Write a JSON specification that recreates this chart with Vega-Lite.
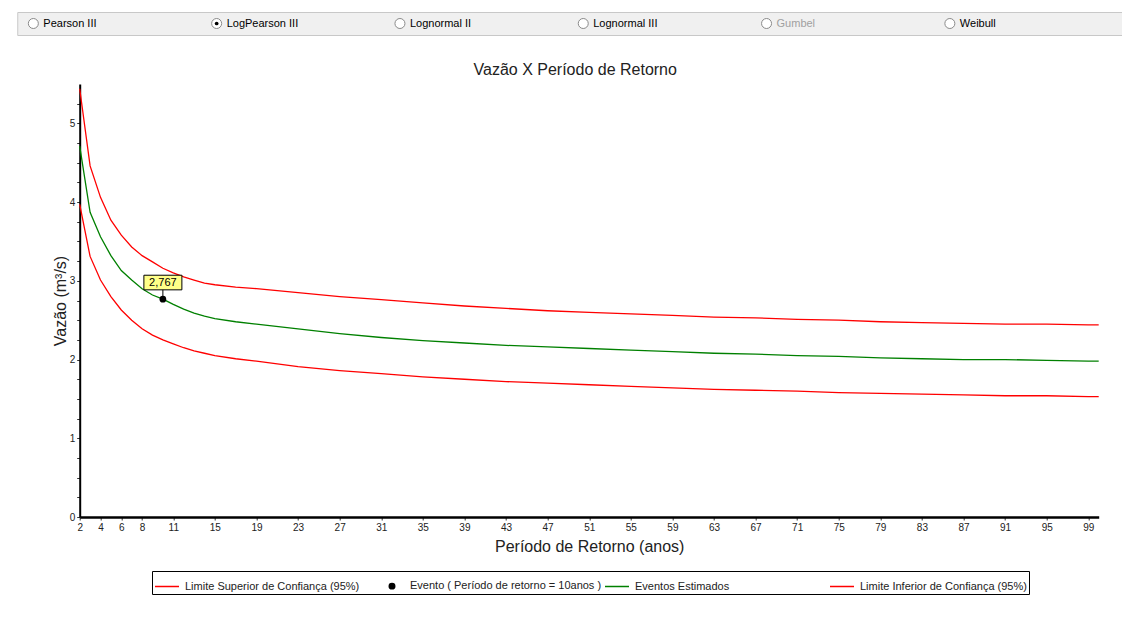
{
  "$schema": "https://vega.github.io/schema/vega-lite/v6.json",
  "background": "white",
  "padding": {"left": 16, "top": 11, "right": 0, "bottom": 0},
  "spacing": 26,
  "center": true,
  "config": {
    "font": "Liberation Sans",
    "legend": {"layout": {"bottom": {"anchor": "middle"}}}
  },
  "datasets": {
    "opcoes": [
      {"nome": "Pearson III", "selecionado": false, "ativo": true},
      {"nome": "LogPearson III", "selecionado": true, "ativo": true},
      {"nome": "Lognormal II", "selecionado": false, "ativo": true},
      {"nome": "Lognormal III", "selecionado": false, "ativo": true},
      {"nome": "Gumbel", "selecionado": false, "ativo": false},
      {"nome": "Weibull", "selecionado": false, "ativo": true}
    ],
    "curvas": [
      {"periodo": 2, "superior": 5.44, "estimado": 4.71, "inferior": 3.97},
      {"periodo": 3, "superior": 4.46, "estimado": 3.87, "inferior": 3.31},
      {"periodo": 4, "superior": 4.06, "estimado": 3.56, "inferior": 3.01},
      {"periodo": 5, "superior": 3.77, "estimado": 3.32, "inferior": 2.80},
      {"periodo": 6, "superior": 3.58, "estimado": 3.13, "inferior": 2.63},
      {"periodo": 7, "superior": 3.43, "estimado": 3.01, "inferior": 2.50},
      {"periodo": 8, "superior": 3.32, "estimado": 2.90, "inferior": 2.39},
      {"periodo": 9, "superior": 3.24, "estimado": 2.82, "inferior": 2.31},
      {"periodo": 10, "superior": 3.16, "estimado": 2.767, "inferior": 2.25},
      {"periodo": 11, "superior": 3.10, "estimado": 2.70, "inferior": 2.20},
      {"periodo": 12, "superior": 3.05, "estimado": 2.64, "inferior": 2.15},
      {"periodo": 13, "superior": 3.01, "estimado": 2.59, "inferior": 2.11},
      {"periodo": 14, "superior": 2.97, "estimado": 2.55, "inferior": 2.08},
      {"periodo": 15, "superior": 2.95, "estimado": 2.52, "inferior": 2.05},
      {"periodo": 17, "superior": 2.92, "estimado": 2.48, "inferior": 2.01},
      {"periodo": 19, "superior": 2.90, "estimado": 2.45, "inferior": 1.98},
      {"periodo": 23, "superior": 2.85, "estimado": 2.39, "inferior": 1.91},
      {"periodo": 27, "superior": 2.80, "estimado": 2.33, "inferior": 1.86},
      {"periodo": 31, "superior": 2.76, "estimado": 2.28, "inferior": 1.82},
      {"periodo": 35, "superior": 2.72, "estimado": 2.24, "inferior": 1.78},
      {"periodo": 39, "superior": 2.68, "estimado": 2.21, "inferior": 1.75},
      {"periodo": 43, "superior": 2.65, "estimado": 2.18, "inferior": 1.72},
      {"periodo": 47, "superior": 2.62, "estimado": 2.16, "inferior": 1.70},
      {"periodo": 51, "superior": 2.60, "estimado": 2.14, "inferior": 1.68},
      {"periodo": 55, "superior": 2.58, "estimado": 2.12, "inferior": 1.66},
      {"periodo": 59, "superior": 2.56, "estimado": 2.10, "inferior": 1.64},
      {"periodo": 63, "superior": 2.54, "estimado": 2.08, "inferior": 1.62},
      {"periodo": 67, "superior": 2.53, "estimado": 2.07, "inferior": 1.61},
      {"periodo": 71, "superior": 2.51, "estimado": 2.05, "inferior": 1.60},
      {"periodo": 75, "superior": 2.50, "estimado": 2.04, "inferior": 1.58},
      {"periodo": 79, "superior": 2.48, "estimado": 2.02, "inferior": 1.57},
      {"periodo": 83, "superior": 2.47, "estimado": 2.01, "inferior": 1.56},
      {"periodo": 87, "superior": 2.46, "estimado": 2.00, "inferior": 1.55},
      {"periodo": 91, "superior": 2.45, "estimado": 2.00, "inferior": 1.54},
      {"periodo": 95, "superior": 2.45, "estimado": 1.99, "inferior": 1.54},
      {"periodo": 99, "superior": 2.44, "estimado": 1.98, "inferior": 1.53},
      {"periodo": 100, "superior": 2.44, "estimado": 1.98, "inferior": 1.53}
    ],
    "evento": [
      {"periodo": 10, "vazao": 2.767, "serie": "evento", "rotulo": "2,767"}
    ]
  },
  "vconcat": [
    {
      "width": 1146,
      "height": 23,
      "data": {"name": "opcoes"},
      "view": {"fill": "#f0f0f0", "stroke": "#c8c8c8"},
      "encoding": {
        "x": {"field": "nome", "type": "nominal", "sort": null, "bandPosition": 0,
              "scale": {"type": "band", "paddingInner": 0, "paddingOuter": 0.126}, "axis": null}
      },
      "layer": [
        {"mark": {"type": "point", "shape": "circle", "size": 100, "filled": true, "fill": "white", "stroke": "#8a8a8a", "strokeWidth": 1, "opacity": 1, "xOffset": -7}},
        {"transform": [{"filter": "datum.selecionado"}],
         "mark": {"type": "point", "shape": "circle", "size": 14, "filled": true, "color": "black", "opacity": 1, "xOffset": -7}},
        {"mark": {"type": "text", "align": "left", "baseline": "middle", "xOffset": 3, "fontSize": 11},
         "encoding": {
           "text": {"field": "nome"},
           "color": {"condition": {"test": "datum.ativo", "value": "#000000"}, "value": "#a0a0a0"}
         }}
      ]
    },
    {
      "width": 1019,
      "height": 433,
      "title": {"text": "Vazão X Período de Retorno", "fontSize": 16, "fontWeight": "normal", "color": "#222222", "frame": "group", "anchor": "middle", "dx": -14, "offset": 6},
      "view": {"stroke": null},
      "encoding": {
        "x": {"field": "periodo", "type": "quantitative",
              "scale": {"domain": [2, 100], "nice": false, "zero": false},
              "axis": {"values": [2,4,6,8,11,15,19,23,27,31,35,39,43,47,51,55,59,63,67,71,75,79,83,87,91,95,99],
                       "title": "Período de Retorno (anos)", "grid": false, "domainColor": "#000000", "domainWidth": 2.5,
                       "tickColor": "#333333", "tickSize": 3, "labelFontSize": 10, "labelColor": "#222222", "labelPadding": 2,
                       "titleFontSize": 16, "titleFontWeight": "normal", "titleColor": "#222222", "titlePadding": 6,
                       "labelOverlap": false, "labelFlush": false}},
        "y": {"field": "vazao", "type": "quantitative",
              "scale": {"domain": [0, 5.5], "nice": false},
              "axis": {"values": [0,0.25,0.5,0.75,1,1.25,1.5,1.75,2,2.25,2.5,2.75,3,3.25,3.5,3.75,4,4.25,4.5,4.75,5,5.25],
                       "labelExpr": "datum.value % 1 == 0 ? format(datum.value, 'd') : ''",
                       "title": ["", "Vazão (m³/s)"], "titleLineHeight": 35, "grid": false, "domainColor": "#000000", "domainWidth": 2,
                       "tickColor": "#333333", "tickSize": 3, "labelFontSize": 10, "labelColor": "#222222", "labelPadding": 2,
                       "titleFontSize": 16, "titleFontWeight": "normal", "titleColor": "#222222", "titlePadding": 1,
                       "labelOverlap": false, "labelFlush": false}}
      },
      "layer": [
        {
          "data": {"name": "curvas"},
          "transform": [{"fold": ["superior", "estimado", "inferior"], "as": ["serie", "vazao"]}],
          "mark": {"type": "line", "strokeWidth": 1.3},
          "encoding": {
            "color": {"field": "serie", "type": "nominal",
                      "scale": {"domain": ["superior", "evento", "estimado", "inferior"], "range": ["#ff0000", "#000000", "#008000", "#ff0000"]},
                      "legend": {"orient": "bottom", "direction": "horizontal", "columns": 4, "title": null, "gridAlign": "all",
                                 "labelFontSize": 11, "labelColor": "#222222", "labelLimit": 300, "labelOffset": 5,
                                 "symbolType": "stroke", "symbolSize": 576, "symbolStrokeWidth": 1.5,
                                 "strokeColor": "#000000", "padding": 2, "columnPadding": 0, "offset": 17,
                                 "labelExpr": "datum.value == 'superior' ? 'Limite Superior  de Confiança (95%)' : datum.value == 'evento' ? 'Evento ( Período de retorno = 10anos )' : datum.value == 'estimado' ? 'Eventos Estimados' : 'Limite Inferior de Confiança (95%)'",
                                 "encode": {"symbols": {"update": {
                                   "shape": {"signal": "datum.value == 'evento' ? 'circle' : 'stroke'"},
                                   "size": {"signal": "datum.value == 'evento' ? 30 : 576"},
                                   "fill": {"signal": "datum.value == 'evento' ? '#000000' : 'transparent'"}
                                 }}}}}
          }
        },
        {
          "data": {"name": "evento"},
          "mark": {"type": "point", "shape": "M-1,-1.26H1V-0.49H-1ZM0,-0.49V0", "size": 1444, "filled": true, "fill": "#ffff88", "stroke": "#000000", "strokeWidth": 1, "opacity": 1}
        },
        {
          "data": {"name": "evento"},
          "mark": {"type": "text", "yOffset": -16.5, "fontSize": 11, "baseline": "middle", "align": "center", "color": "#000000"},
          "encoding": {"text": {"field": "rotulo"}}
        },
        {
          "data": {"name": "evento"},
          "mark": {"type": "point", "shape": "circle", "filled": true, "size": 45, "opacity": 1},
          "encoding": {"color": {"field": "serie", "type": "nominal"}}
        }
      ]
    }
  ]
}
